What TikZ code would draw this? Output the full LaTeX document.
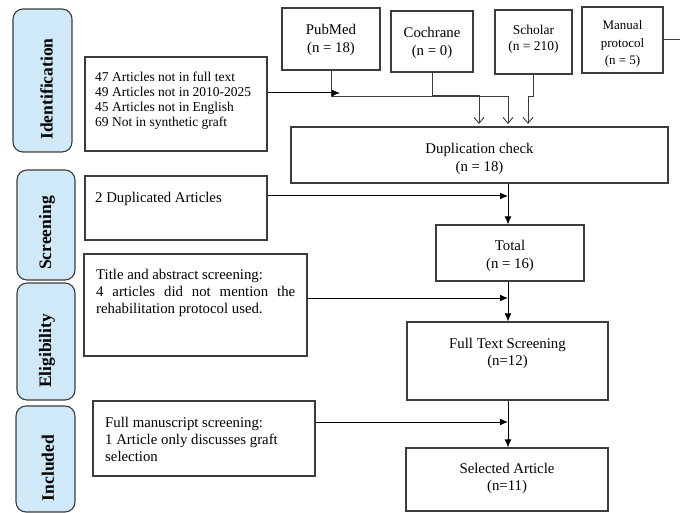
\documentclass[tikz,border=0pt]{standalone}
\usepackage{fontspec}
\setmainfont{Liberation Serif}
\usetikzlibrary{arrows.meta}
\definecolor{stagefill}{HTML}{CFE9F8}
\definecolor{edge}{HTML}{3C3C3C}
\begin{document}
\begin{tikzpicture}[x=1pt,y=-1pt,
  box/.style={draw=edge,line width=1.1pt,inner sep=0pt},
  stage/.style={draw=edge,fill=stagefill,line width=1.1pt,rounded corners=10pt,inner sep=0pt},
  stagetxt/.style={rotate=90,font=\fontsize{17.5}{20}\selectfont\bfseries,inner sep=0pt},
  txt/.style={font=\fontsize{14.8}{17.5}\selectfont,align=center,inner sep=0pt},
  ltxt/.style={font=\fontsize{14.8}{17}\selectfont,anchor=north west,inner sep=0pt,align=left},
  arr/.style={line width=1pt,-{Latex[length=8pt,width=7pt]}},
  oarr/.style={draw=edge,line width=0.9pt,-{Straight Barb[length=6pt,width=10pt]}},
  conn/.style={draw=edge,line width=1pt}
]
\useasboundingbox (0,0) rectangle (680,513);

% stage boxes
\node[stage,minimum width=59pt,minimum height=143pt] (idS) at (42.5,80.5) {};
\node[stage,minimum width=58pt,minimum height=110pt] (scS) at (46,225) {};
\node[stage,minimum width=58pt,minimum height=117pt] (elS) at (46,341.5) {};
\node[stage,minimum width=59pt,minimum height=106pt] (inS) at (45.5,459) {};
\node[stagetxt] (idT) at (46.5,89) {Identification};
\node[stagetxt] (scT) at (47,233) {Screening};
\node[stagetxt] (elT) at (47,351) {Eligibility};
\node[stagetxt] (inT) at (48,468) {Included};

% left exclusion boxes
\node[box,minimum width=182pt,minimum height=94pt] (ex1) at (176,104) {};
\node[box,minimum width=182pt,minimum height=64pt] (ex2) at (176,208) {};
\node[box,minimum width=223pt,minimum height=102pt] (ex3) at (195.5,305) {};
\node[box,minimum width=222pt,minimum height=75pt] (ex4) at (204,438.5) {};

\node[ltxt,font=\fontsize{13.5}{15}\selectfont] (t1) at (95,72) {47 Articles not in full text\\49 Articles not in 2010-2025\\45 Articles not in English\\69 Not in synthetic graft};
\node[ltxt] (t2) at (95,192) {2 Duplicated Articles};
\node[ltxt,text width=199pt,align=justify] (t3) at (96,269) {Title and abstract screening:\\4 articles did not mention the\linebreak rehabilitation protocol used.};
\node[ltxt] (t4) at (105,417) {Full manuscript screening:\\1 Article only discusses graft\\selection};

% source boxes
\node[box,minimum width=98pt,minimum height=62pt] (pub) at (331,39) {};
\node[box,minimum width=82pt,minimum height=61pt] (coc) at (432,41.5) {};
\node[box,minimum width=77pt,minimum height=64pt] (sch) at (533.5,42) {};
\node[box,minimum width=81pt,minimum height=66pt] (man) at (622.5,40) {};
\node[txt] (pubT) at (331,40) {PubMed\\(n = 18)};
\node[txt,font=\fontsize{14.8}{18}\selectfont] (cocT) at (432,43) {Cochrane\\(n = 0)};
\node[txt,font=\fontsize{13.5}{16}\selectfont] (schT) at (533.5,39) {Scholar\\(n = 210)};
\node[txt,font=\fontsize{13}{17.5}\selectfont] (manT) at (622.5,44) {Manual\\protocol\\(n = 5)};

% main flow boxes
\node[box,minimum width=377pt,minimum height=56pt] (dup) at (479.5,155) {};
\node[box,minimum width=148pt,minimum height=56pt] (tot) at (510,253) {};
\node[box,minimum width=201pt,minimum height=78pt] (ful) at (507.5,361) {};
\node[box,minimum width=202pt,minimum height=63pt] (sel) at (507,479.5) {};
\node[txt,font=\fontsize{14.8}{18}\selectfont] (dupT) at (479.5,159) {Duplication check\\(n = 18)};
\node[txt,font=\fontsize{14.8}{18}\selectfont] (totT) at (510,256) {Total\\(n = 16)};
\node[txt,font=\fontsize{14.8}{17}\selectfont] (fulT) at (507.5,353.5) {Full Text Screening\\(n=12)};
\node[txt,font=\fontsize{14.8}{17}\selectfont] (selT) at (507,478.5) {Selected Article\\(n=11)};

% coordinates
\coordinate (vx) at (508,0);
\coordinate (p1) at (340,93);
\coordinate (d1) at (479,124);
\coordinate (d2) at (508,124);
\coordinate (d3) at (528,124);
\coordinate (e2) at (508,196);
\coordinate (e3) at (508,298);
\coordinate (e4) at (508,422);
\coordinate (mend) at (680,40);

% connectors into duplication check
\draw[oarr] (pub.south) |- (508,96) -- (d2);
\draw[oarr] (coc.south) |- (479,95) -- (d1);
\draw[oarr] (sch.south) -- ++(0,22) -| (d3);
\draw[conn] (man.east) -- (mend);

% exclusion arrows
\draw[arr] ([yshift=11pt]ex1.east) -- (p1);
\draw[arr] ([yshift=12pt]ex2.east) -- (e2);
\draw[arr] ([yshift=7pt]ex3.east) -- (e3);
\draw[arr] ([yshift=16.5pt]ex4.east) -- (e4);

% main vertical flow
\draw[arr] (dup.south -| vx) -- (tot.north -| vx);
\draw[arr] (tot.south -| vx) -- (ful.north -| vx);
\draw[arr] (ful.south -| vx) -- (sel.north -| vx);
\end{tikzpicture}
\end{document}
